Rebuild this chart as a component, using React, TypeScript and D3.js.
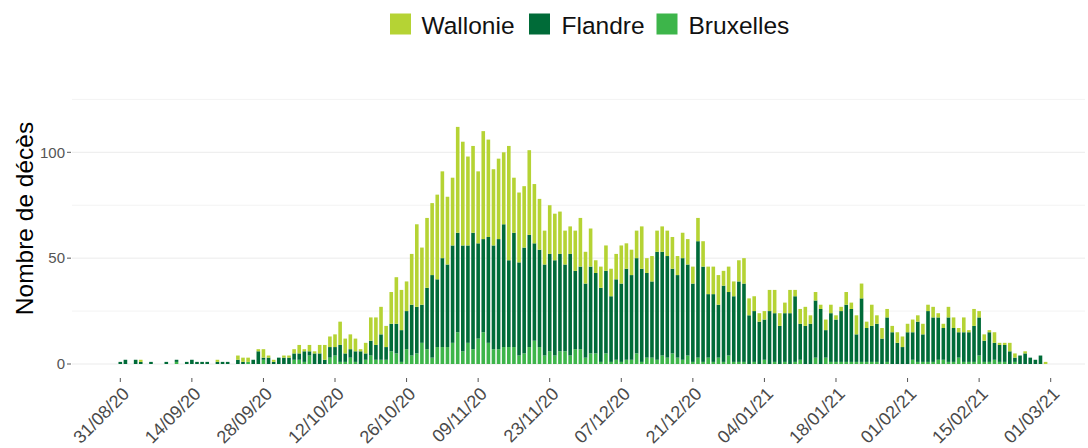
import React from "react";
import * as d3 from "d3";

const startDate = "2020-08-31";
const endTickDate = "2021-03-01";

const wallonie = [
  0,0,0,0,1,0,0,0,0,0, 0,0,0,0,0,0,0,0,0,1, 0,0,0,2,2,2,0,1,4,1,
  1,0,1,1,2,4,1,3,1,4, 7,5,6,11,7,7,6,1,5,11, 13,13,10,15,22,19,14,24,39,27,
  33,34,40,41,32,32,50,49,42,41, 34,51,46,36,38,34,54,26,33,29, 40,28,24,16,23,22,20,16,13,19,
  23,15,18,6,10,12,13,12,18,12, 12,13,20,7,12,10,12,12,15,9, 12,12,8,11,12,13,13,14,7,12,
  7,10,12,8,7,4,4,10,11,6, 5,11,3,7,9,4,4,2,5,4, 2,2,6,3,9,7,3,10,4,5,
  4,3,5,5,4,6,3,5,3,5, 2,2,5,5,2,7,1,8,3,3, 1,5,1,1,4,2,0,1,0,0, 0,1
];
const flandre = [
  1,2,0,2,1,0,1,0,0,1, 0,1,0,1,2,1,1,1,0,1, 1,1,0,2,1,0,2,6,1,3,
  1,3,3,3,3,3,5,2,5,5, 2,5,4,8,4,4,5,6,3,7, 7,12,6,13,14,15,18,24,22,18,
  29,39,32,42,39,46,47,50,46,55, 45,44,50,49,52,58,41,54,44,50, 53,46,46,43,46,45,46,41,48,37,
  39,35,41,38,35,39,31,38,37,43, 40,45,44,40,36,51,49,48,40,39, 48,43,37,55,45,30,32,25,36,30,
  31,38,37,23,24,20,19,25,23,18, 23,24,31,17,18,19,27,26,13,23, 20,24,27,25,13,30,16,17,18,12,
  21,15,10,8,15,13,19,13,24,21, 20,15,21,16,12,14,14,17,18,10, 14,8,8,8,6,2,4,5,3,2, 4,0
];
const bruxelles = [
  0,0,0,0,0,0,0,0,0,0, 0,1,0,0,0,0,0,0,0,0, 0,0,0,0,0,1,0,0,2,0,
  0,0,0,0,2,2,1,4,0,0, 0,3,4,1,1,3,1,0,2,4, 2,2,2,6,5,1,7,4,5,10,
  7,3,8,8,8,10,15,6,10,7, 12,15,10,7,7,8,8,8,4,5, 8,11,8,4,6,4,6,6,4,7,
  7,3,5,5,1,5,1,2,1,2, 2,5,1,3,3,2,4,3,5,3, 2,4,1,3,1,3,1,3,1,4,
  1,1,1,0,1,0,2,0,1,0, 1,0,1,2,0,0,3,0,3,1, 1,1,1,1,1,1,1,1,1,0,
  1,0,0,0,0,2,1,1,1,1, 2,2,1,1,3,1,1,1,4,1, 1,2,1,1,0,1,0,0,0,0, 0,0
];

const seriesKeys = ["bruxelles", "flandre", "wallonie"];
const seriesLabels: Record<string, string> = { wallonie: "Wallonie", flandre: "Flandre", bruxelles: "Bruxelles" };
const seriesColors: Record<string, string> = { wallonie: "#b5d334", flandre: "#006b38", bruxelles: "#3db54a" };
const legendOrder = ["wallonie", "flandre", "bruxelles"];
const yTickValues = [0, 50, 100];
const yGridValues = [0, 25, 50, 75, 100, 125];
const yTitle = "Nombre de décès";

const W = 1088;
const H = 448;
const panel = { left: 72, right: 1085 };
const fontFamily = "'Liberation Sans', Arial, Helvetica, sans-serif";

export default function App() {
  const parse = d3.utcParse("%Y-%m-%d");
  const d0 = parse(startDate)!;
  const dEnd = parse(endTickDate)!;
  const rows = wallonie.map((w, i) => ({
    date: d3.utcDay.offset(d0, i),
    wallonie: w,
    flandre: flandre[i],
    bruxelles: bruxelles[i],
  }));
  const x = d3.scaleUtc().domain([d0, dEnd]).range([120.3, 1050.7]);
  const y = d3.scaleLinear().domain([0, 100]).range([364, 152.3]);
  const stack = d3.stack<any>().keys(seriesKeys);
  const layers = stack(rows);
  const bw = 3.6;
  const xTickDates = d3.range(0, 14).map((k) => d3.utcDay.offset(d0, k * 14));
  const fmt = d3.utcFormat("%d/%m/%y");

  const legendPos = [
    { sq: 390, tx: 421.5 },
    { sq: 529, tx: 561.5 },
    { sq: 656.5, tx: 688.5 },
  ];

  return (
    <div style={{ position: "absolute", left: 0, top: 0 }}>
      <svg width={W} height={H} style={{ display: "block", background: "#fff" }} fontFamily={fontFamily}>
        <rect x={0} y={0} width={W} height={H} fill="#fff" />
        {yGridValues.map((v) => (
          <line key={v} x1={panel.left} x2={panel.right} y1={y(v)} y2={y(v)}
            stroke={v % 50 === 0 ? "#ebebeb" : "#f3f3f3"} strokeWidth={1} />
        ))}
        {layers.map((layer) => (
          <g key={layer.key} fill={seriesColors[layer.key]}>
            {layer.map((d, i) => {
              const h = y(d[0]) - y(d[1]);
              if (h <= 0) return null;
              return <rect key={i} x={x(rows[i].date) - bw / 2} y={y(d[1])} width={bw} height={h} />;
            })}
          </g>
        ))}
        {yTickValues.map((v) => (
          <g key={v}>
            <line x1={67} x2={71} y1={y(v)} y2={y(v)} stroke="#555" strokeWidth={1} />
            <text x={65} y={y(v)} dy="0.35em" textAnchor="end" fontSize={15} fill="#555">{v}</text>
          </g>
        ))}
        {xTickDates.map((d, i) => {
          const tx = x(d);
          return (
            <g key={i}>
              <line x1={tx} x2={tx} y1={378} y2={382} stroke="#555" strokeWidth={1} />
              <text transform={`translate(${tx + 10},${395}) rotate(-45)`} textAnchor="end" fontSize={18} fill="#4a4a4a">{fmt(d)}</text>
            </g>
          );
        })}
        <text transform={`translate(33,218.5) rotate(-90)`} textAnchor="middle" fontSize={24.5} fill="#000">{yTitle}</text>
        {legendOrder.map((k, i) => (
          <g key={k}>
            <rect x={legendPos[i].sq} y={13.5} width={21} height={21} fill={seriesColors[k]} />
            <text x={legendPos[i].tx} y={34} fontSize={24.5} fill="#111">{seriesLabels[k]}</text>
          </g>
        ))}
      </svg>
    </div>
  );
}
